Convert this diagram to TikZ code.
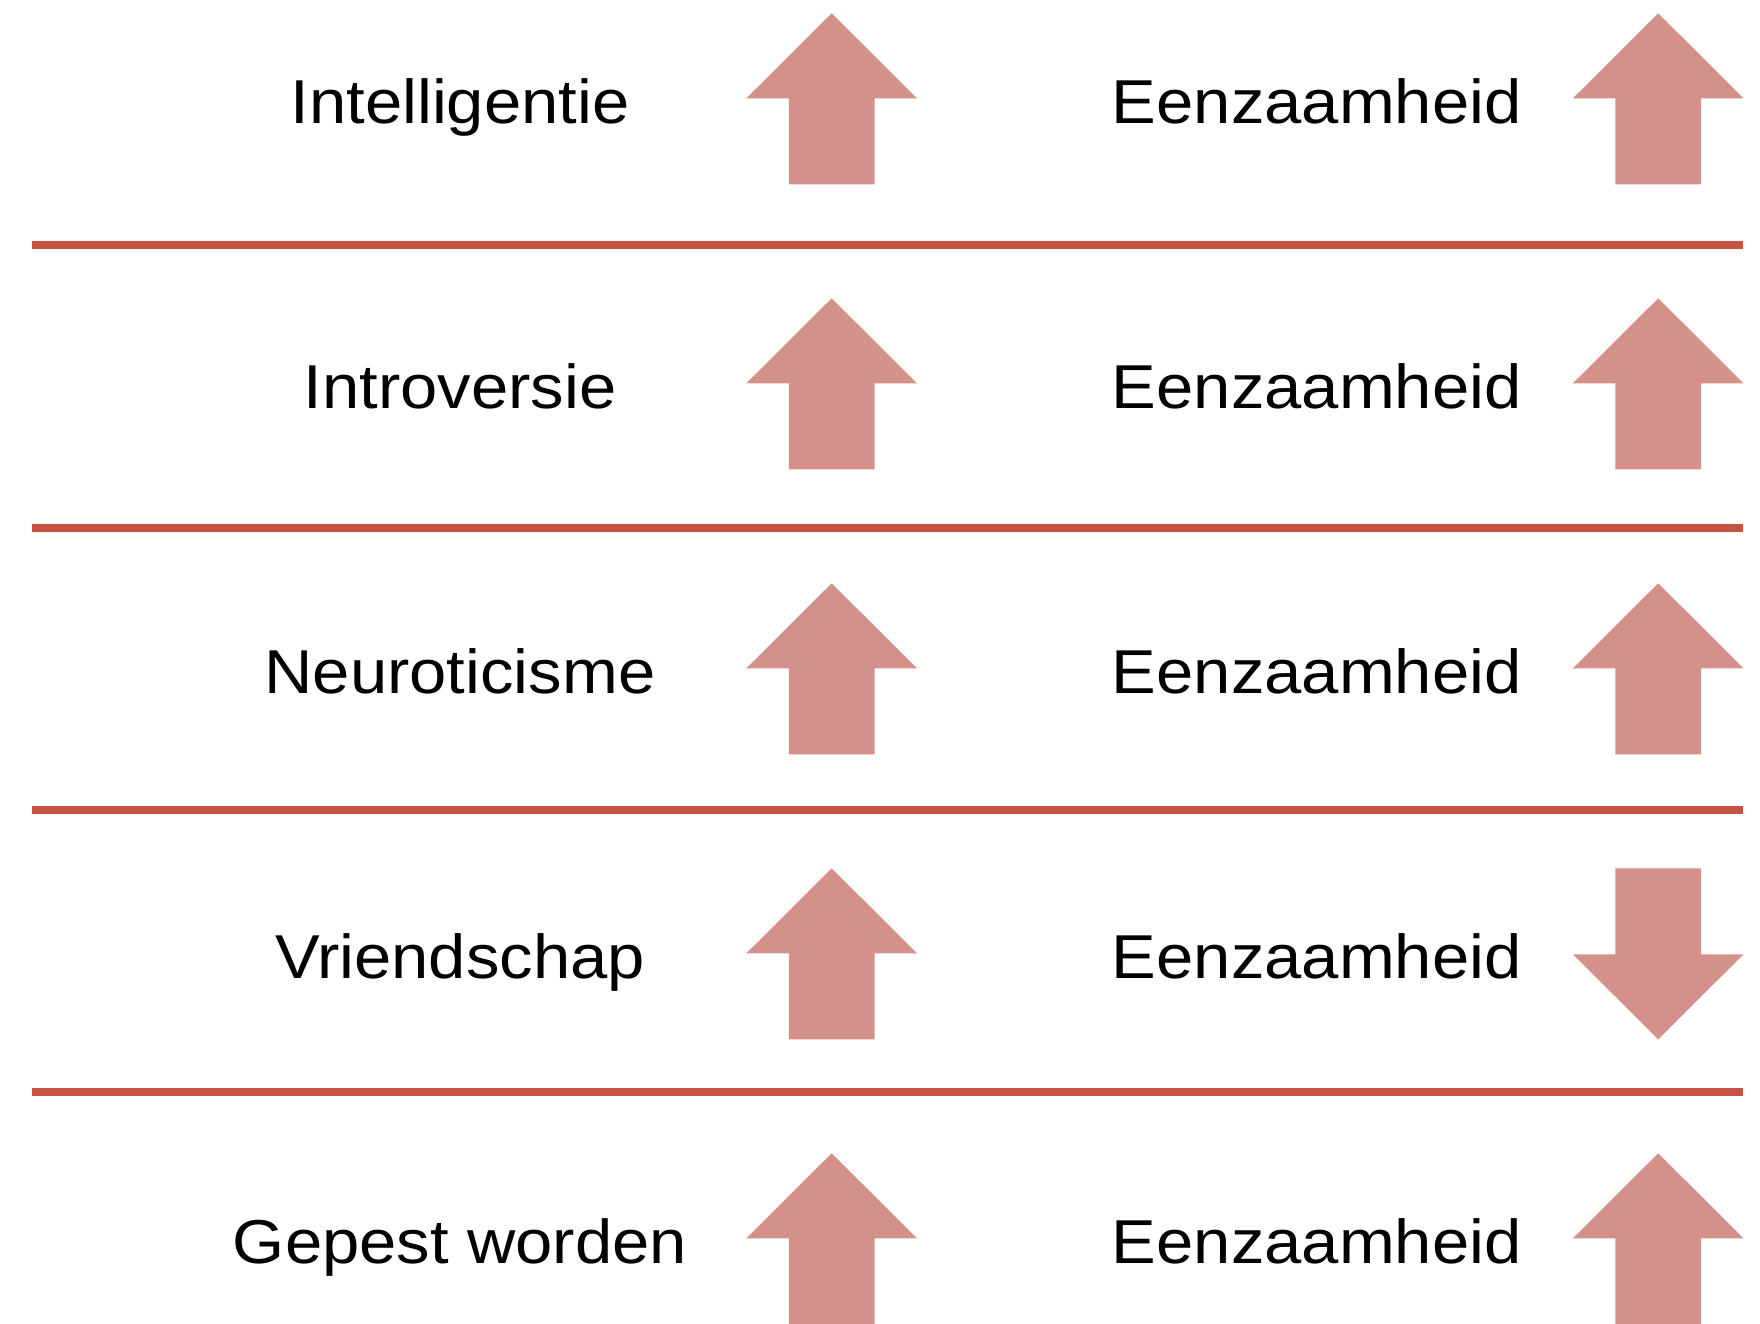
\documentclass[tikz,border=0pt]{standalone}
\usepackage{fontspec}
\setmainfont{Liberation Sans}[FakeStretch=1.08]
\definecolor{pijlrood}{HTML}{D3918A}
\definecolor{lijnrood}{HTML}{C75343}
\tikzset{
  tekst/.style={inner sep=0pt, anchor=base, font=\fontsize{31}{36}\selectfont},
  scheiding/.style={draw=lijnrood, line width=4pt},
  pijlop/.pic={\fill[pijlrood] (0,0) -- (85.3,85) -- (42.8,85) -- (42.8,171)
      -- (-42.8,171) -- (-42.8,85) -- (-85.3,85) -- cycle;},
  pijlneer/.pic={\fill[pijlrood] (0,171) -- (85.3,86) -- (42.8,86) -- (42.8,0)
      -- (-42.8,0) -- (-42.8,86) -- (-85.3,86) -- cycle;}
}
\begin{document}
\begin{tikzpicture}[x=0.5pt, y=-0.5pt]
            \clip (0,0) rectangle (1760,1323);
            \fill[white] (0,0) rectangle (1760,1323);
            \foreach \txt [count=\i from 0] in {Intelligentie,Introversie,Neuroticisme,Vriendschap,Gepest worden}{
              \node[tekst] (oorzaak\i) at (460,{123.3+285*\i}) {\txt};
              \node[tekst] (gevolg\i) at (1316.7,{123.3+285*\i}) {Eenzaamheid};
              \pic at (831.7,{13.3+285*\i}) {pijlop};
              \ifnum\i=3
                \pic at (1658.2,{13.3+285*\i}) {pijlneer};
              \else
                \pic at (1658.2,{13.3+285*\i}) {pijlop};
              \fi
            }
            \foreach \j in {0,...,3}
              \draw[scheiding] (32,{245.3+282.3*\j}) -- (1743,{245.3+282.3*\j});
        \end{tikzpicture}
\end{document}
